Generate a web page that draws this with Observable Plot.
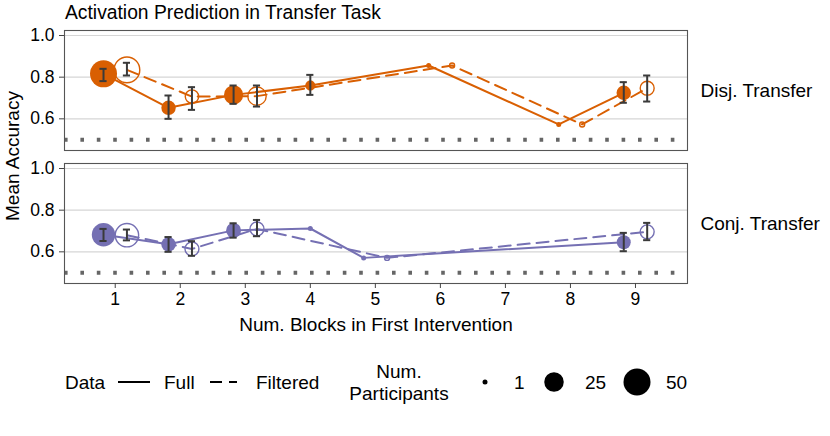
<!DOCTYPE html>
<html><head><meta charset="utf-8">
<script src="https://cdn.jsdelivr.net/npm/d3@7"></script>
<script src="https://cdn.jsdelivr.net/npm/@observablehq/plot@0.6"></script>
<style>
body{margin:0;background:#fff;font-family:"Liberation Sans",Arial,Helvetica,sans-serif;}
#wrap{position:relative;width:830px;height:436px;overflow:hidden;background:#fff;}
#chart{position:absolute;left:0;top:0;}
.t{position:absolute;white-space:nowrap;color:#000;font-size:19px;line-height:1;}
</style></head><body>
<div id="wrap"><div id="chart"></div></div>
<script>
// ---------- data ----------
const tasks = ["Disj. Transfer", "Conj. Transfer"];
const taskColors = ["#d95f02", "#7570b3"];
const dataTypes = ["Full", "Filtered"];
const xTicks = [1, 2, 3, 4, 5, 6, 7, 8, 9];
const yTicks = [0.6, 0.8, 1.0];
const chanceLevel = [0.5];
const sizeBreaks = [1, 25, 50];

// Disj. Transfer - Full
const disjFullBlocks = [1, 2, 3, 4, 6, 8, 9];
const disjFullAcc    = [0.816, 0.653, 0.715, 0.760, 0.856, 0.573, 0.725];
const disjFullLo     = [0.781, 0.600, 0.672, 0.715, null, null, 0.677];
const disjFullHi     = [0.840, 0.712, 0.760, 0.811, null, null, 0.776];
const disjFullN      = [50, 13, 24, 6, 1, 1, 13];
// Disj. Transfer - Filtered
const disjFiltBlocks = [1, 2, 3, 6, 8, 9];
const disjFiltAcc    = [0.835, 0.707, 0.709, 0.856, 0.573, 0.747];
const disjFiltLo     = [0.808, 0.643, 0.659, null, null, 0.683];
const disjFiltHi     = [0.869, 0.752, 0.760, null, null, 0.808];
const disjFiltN      = [45, 11, 22, 1, 1, 12];
// Conj. Transfer - Full
const conjFullBlocks = [1, 2, 3, 4, 5, 9];
const conjFullAcc    = [0.682, 0.636, 0.703, 0.712, 0.571, 0.646];
const conjFullLo     = [0.652, 0.600, 0.668, null, null, 0.603];
const conjFullHi     = [0.710, 0.671, 0.737, null, null, 0.691];
const conjFullN      = [37, 13, 14, 1, 1, 12];
// Conj. Transfer - Filtered
const conjFiltBlocks = [1, 2, 3, 5, 9];
const conjFiltAcc    = [0.680, 0.614, 0.710, 0.571, 0.696];
const conjFiltLo     = [0.655, 0.581, 0.675, null, 0.656];
const conjFiltHi     = [0.707, 0.651, 0.753, null, 0.739];
const conjFiltN      = [37, 12, 12, 1, 12];

const dodge = 0.18;
const capHalf = 0.055;

function build(task, type, blocks, acc, lo, hi, n, otherBlocks) {
  return blocks.map((b, i) => {
    const both = otherBlocks.includes(b);
    const off = both ? (type === "Full" ? -dodge : dodge) : 0;
    return {task, type, block: b, xd: b + off, acc: acc[i], lo: lo[i], hi: hi[i], n: n[i]};
  });
}
const full = [
  ...build(tasks[0], "Full", disjFullBlocks, disjFullAcc, disjFullLo, disjFullHi, disjFullN, disjFiltBlocks),
  ...build(tasks[1], "Full", conjFullBlocks, conjFullAcc, conjFullLo, conjFullHi, conjFullN, conjFiltBlocks)
];
const filt = [
  ...build(tasks[0], "Filtered", disjFiltBlocks, disjFiltAcc, disjFiltLo, disjFiltHi, disjFiltN, disjFullBlocks),
  ...build(tasks[1], "Filtered", conjFiltBlocks, conjFiltAcc, conjFiltLo, conjFiltHi, conjFiltN, conjFullBlocks)
];
const bars = [...full, ...filt].filter(d => d.lo != null);

const FONT = '"Liberation Sans", Arial, Helvetica, sans-serif';
const errColor = "#3a3a3a";

const plot = Plot.plot({
  width: 830, height: 340,
  marginTop: 30, marginBottom: 57, marginLeft: 64, marginRight: 143,
  style: {fontFamily: FONT, fontSize: "17.5px", color: "#000", background: "transparent", overflow: "visible"},
  x: {domain: [0.22, 9.8]},
  y: {domain: [0.448, 1.024]},
  fy: {domain: tasks, paddingInner: 13 / 133, paddingOuter: 0, round: false},
  color: {domain: tasks, range: taskColors},
  r: {type: "sqrt", domain: [1, 50], range: [2.5, 13.5]},
  marks: [
    Plot.gridY(yTicks, {stroke: "#d6d6d6", strokeOpacity: 1, strokeWidth: 1.2}),
    Plot.ruleY(chanceLevel, {stroke: "#666", strokeWidth: 4, strokeDasharray: "3.6,12.8"}),
    Plot.line(full, {x: "xd", y: "acc", fy: "task", stroke: "task", strokeWidth: 2}),
    Plot.line(filt, {x: "xd", y: "acc", fy: "task", stroke: "task", strokeWidth: 2, strokeDasharray: "12,7"}),
    Plot.dot(full, {x: "xd", y: "acc", fy: "task", r: "n", fill: "task", stroke: "none"}),
    Plot.dot(filt, {x: "xd", y: "acc", fy: "task", r: "n", fill: "none", stroke: "task", strokeWidth: 1.4}),
    Plot.ruleX(bars, {x: "xd", y1: "lo", y2: "hi", fy: "task", stroke: errColor, strokeWidth: 2}),
    Plot.ruleY(bars, {y: "lo", x1: d => d.xd - capHalf, x2: d => d.xd + capHalf, fy: "task", stroke: errColor, strokeWidth: 2}),
    Plot.ruleY(bars, {y: "hi", x1: d => d.xd - capHalf, x2: d => d.xd + capHalf, fy: "task", stroke: errColor, strokeWidth: 2}),
    Plot.frame({stroke: "#555", strokeWidth: 1.1}),
    Plot.axisY({ticks: yTicks, tickFormat: d3.format(".1f"), tickSize: 5, tickPadding: 5, label: null, stroke: "#444", fill: "#000"}),
    Plot.axisX({ticks: xTicks, tickFormat: d3.format("d"), tickSize: 5, tickPadding: 4, label: null, stroke: "#444", fill: "#000"}),
    Plot.axisFy({anchor: "right", tickSize: 0, tickPadding: 13, label: null, fill: "#000", fontSize: 19})
  ]
});
document.getElementById("chart").appendChild(plot);

const wrap = document.getElementById("wrap");
function addText(txt, left, top, extra) {
  const el = document.createElement("div");
  el.className = "t";
  el.textContent = txt;
  el.style.left = left + "px";
  el.style.top = top + "px";
  if (extra) Object.assign(el.style, extra);
  wrap.appendChild(el);
  return el;
}
// title
addText("Activation Prediction in Transfer Task", 65, 3, {fontSize: "19.3px"});
// y axis title
addText("Mean Accuracy", 12, 156, {transform: "translate(-50%,-50%) rotate(-90deg)", left: "12px"});
// x axis title
addText("Num. Blocks in First Intervention", 376, 314.5, {transform: "translateX(-50%)"});

// legend
const rScale = plot.scale("r");
const legendY = 382;
const ns = "http://www.w3.org/2000/svg";
const lsvg = document.createElementNS(ns, "svg");
lsvg.setAttribute("width", 830); lsvg.setAttribute("height", 436);
lsvg.style.position = "absolute"; lsvg.style.left = "0"; lsvg.style.top = "0";
wrap.appendChild(lsvg);
function sv(tag, attrs) { const e = document.createElementNS(ns, tag); for (const k in attrs) e.setAttribute(k, attrs[k]); lsvg.appendChild(e); return e; }
addText("Data", 65, legendY - 9.5);
sv("line", {x1: 118, x2: 150, y1: legendY, y2: legendY, stroke: "#000", "stroke-width": 2});
addText(dataTypes[0], 164, legendY - 9.5);
sv("line", {x1: 210, x2: 237, y1: legendY, y2: legendY, stroke: "#000", "stroke-width": 2, "stroke-dasharray": "12,7"});
addText(dataTypes[1], 256, legendY - 9.5);
addText("Num.", 399, legendY - 20, {transform: "translateX(-50%)"});
addText("Participants", 399, legendY + 2, {transform: "translateX(-50%)"});
const dotX = [485, 554, 637];
const labX = [514, 585, 666];
sizeBreaks.forEach((b, i) => {
  sv("circle", {cx: dotX[i], cy: legendY, r: rScale.apply(b), fill: "#000"});
  addText(String(b), labX[i], legendY - 9.5);
});
</script>
</body></html>
